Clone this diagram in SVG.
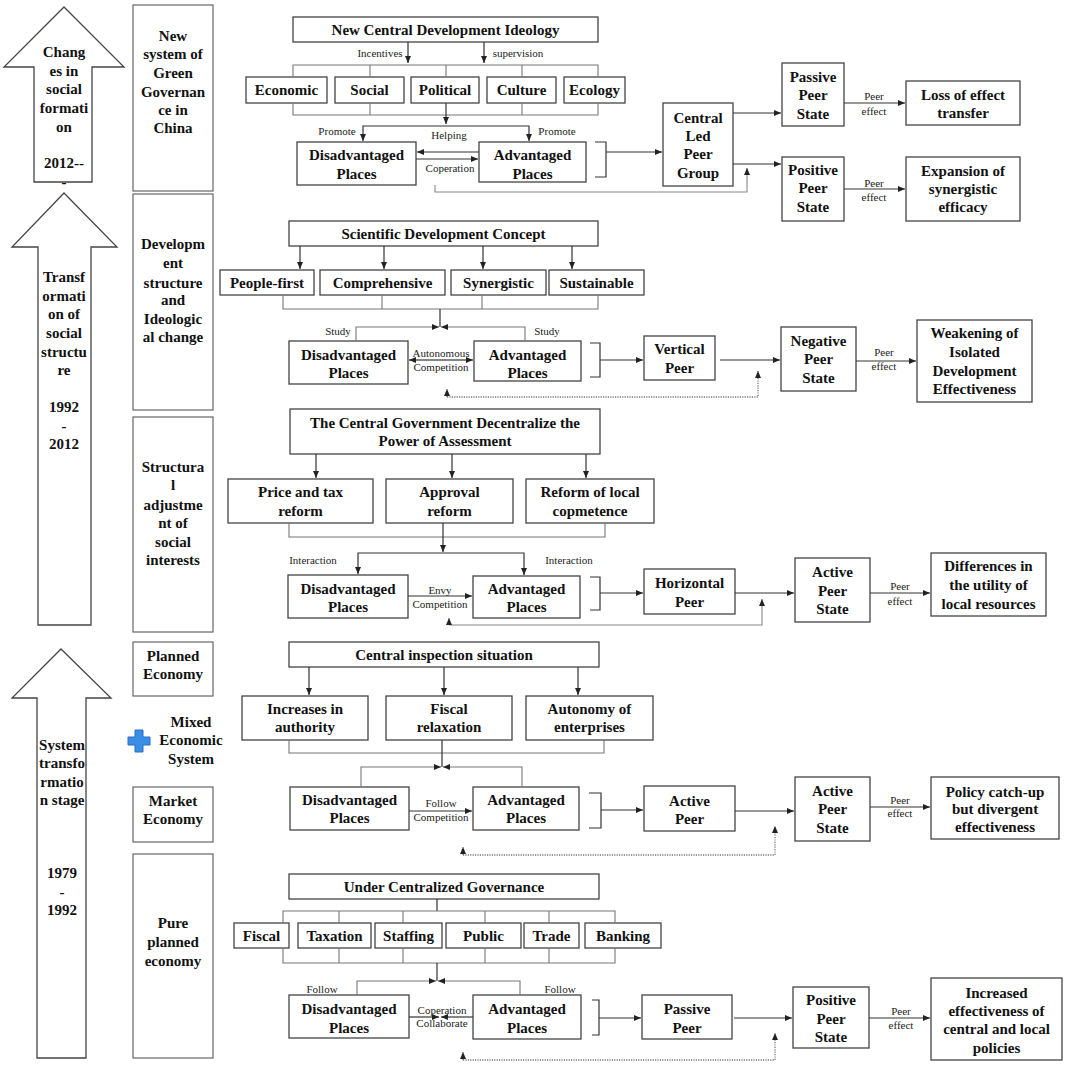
<svg xmlns="http://www.w3.org/2000/svg" width="1065" height="1065" viewBox="0 0 1065 1065">
<style>
.box{fill:#fff;stroke:#444;stroke-width:1.3}
.col{fill:#fff;stroke:#666;stroke-width:1.2}
.big{fill:#fff;stroke:#444;stroke-width:1.3}
.t{font-family:'Liberation Serif','Tinos','Times New Roman','DejaVu Serif',serif;font-weight:bold;font-size:15px;fill:#111;text-anchor:middle}
.s{font-family:'Liberation Serif','Tinos','Times New Roman','DejaVu Serif',serif;font-size:11px;fill:#222;text-anchor:middle}
.ln{fill:none;stroke:#333;stroke-width:1.2}
.br{fill:none;stroke:#777;stroke-width:1.1}
.lp{fill:none;stroke:#888;stroke-width:1.1}
.dt{fill:none;stroke:#777;stroke-width:1.3;stroke-dasharray:1.2 1.2}
</style>
<defs>
<marker id="a" markerUnits="userSpaceOnUse" markerWidth="7" markerHeight="6" refX="7" refY="3" orient="auto"><path d="M0,0 L7,3 L0,6 z" fill="#222"/></marker>
</defs>
<rect width="1065" height="1065" fill="#fff"/>

<!-- left column -->
<g id="arrow1"><polygon class="big" points="64,7 124,67 92,67 92,182 34,182 34,67 4,67"/>
<text class="t"><tspan x="64" y="57">Chang</tspan><tspan x="64" y="76">es in</tspan><tspan x="64" y="94">social</tspan><tspan x="64" y="113">formati</tspan><tspan x="64" y="132">on</tspan><tspan x="64" y="168">2012--</tspan><tspan x="64" y="187">-</tspan></text></g>
<g id="col1"><rect class="col" x="133" y="5" width="80" height="186"/>
<text class="t"><tspan x="173" y="41">New</tspan><tspan x="173" y="59">system of</tspan><tspan x="173" y="78">Green</tspan><tspan x="173" y="97">Governan</tspan><tspan x="173" y="115">ce in</tspan><tspan x="173" y="133">China</tspan></text></g>
<g id="arrow2"><polygon class="big" points="64,193 117,247 91,247 91,625 38,625 38,247 12,247"/>
<text class="t"><tspan x="64" y="282">Transf</tspan><tspan x="64" y="301">ormati</tspan><tspan x="64" y="319">on of</tspan><tspan x="64" y="338">social</tspan><tspan x="64" y="357">structu</tspan><tspan x="64" y="375">re</tspan><tspan x="64" y="412">1992</tspan><tspan x="64" y="431">-</tspan><tspan x="64" y="449">2012</tspan></text></g>
<g id="col2"><rect class="col" x="133" y="194" width="80" height="216"/>
<text class="t"><tspan x="173" y="249">Developm</tspan><tspan x="173" y="268">ent</tspan><tspan x="173" y="288">structure</tspan><tspan x="173" y="305">and</tspan><tspan x="173" y="324">Ideologic</tspan><tspan x="173" y="342">al change</tspan></text></g>
<g id="col3"><rect class="col" x="133" y="417" width="80" height="215"/>
<text class="t"><tspan x="173" y="472">Structura</tspan><tspan x="173" y="490">l</tspan><tspan x="173" y="510">adjustme</tspan><tspan x="173" y="528">nt of</tspan><tspan x="173" y="547">social</tspan><tspan x="173" y="565">interests</tspan></text></g>
<g id="col4"><rect class="col" x="133" y="642" width="80" height="54"/>
<text class="t"><tspan x="173" y="661">Planned</tspan><tspan x="173" y="679">Economy</tspan></text></g>
<g id="arrow3"><polygon class="big" points="61,649 111,698 86,698 86,1058 37,1058 37,698 12,698"/>
<text class="t"><tspan x="62" y="750">System</tspan><tspan x="62" y="768">transfo</tspan><tspan x="62" y="787">rmatio</tspan><tspan x="62" y="805">n stage</tspan><tspan x="62" y="878">1979</tspan><tspan x="62" y="897">-</tspan><tspan x="62" y="915">1992</tspan></text></g>
<g id="mixed"><path d="M135,730 h8 v7 h7 v8 h-7 v7 h-8 v-7 h-7 v-8 h7 z" fill="#3b8ee6" stroke="#2a6ec4" stroke-width="1"/>
<text class="t"><tspan x="191" y="727">Mixed</tspan><tspan x="191" y="745">Economic</tspan><tspan x="191" y="764">System</tspan></text></g>
<g id="col5"><rect class="col" x="133" y="787" width="80" height="55"/>
<text class="t"><tspan x="173" y="806">Market</tspan><tspan x="173" y="824">Economy</tspan></text></g>
<g id="col6"><rect class="col" x="133" y="854" width="80" height="204"/>
<text class="t"><tspan x="173" y="928">Pure</tspan><tspan x="173" y="947">planned</tspan><tspan x="173" y="966">economy</tspan></text></g>

<!-- section 1 nodes -->
<g id="s1top"><rect class="box" x="293" y="17" width="305" height="25"/><text class="t" x="445.5" y="35">New Central Development Ideology</text></g>
<g id="s1eco"><rect class="box" x="246" y="77" width="81" height="26"/><text class="t" x="286.5" y="95">Economic</text></g>
<g id="s1soc"><rect class="box" x="335" y="77" width="69" height="26"/><text class="t" x="369.5" y="95">Social</text></g>
<g id="s1pol"><rect class="box" x="411" y="77" width="68" height="26"/><text class="t" x="445" y="95">Political</text></g>
<g id="s1cul"><rect class="box" x="487" y="77" width="69" height="26"/><text class="t" x="521.5" y="95">Culture</text></g>
<g id="s1ecl"><rect class="box" x="564" y="77" width="61" height="26"/><text class="t" x="594.5" y="95">Ecology</text></g>
<g id="s1dis"><rect class="box" x="297" y="142" width="119" height="43"/><text class="t"><tspan x="356.5" y="160">Disadvantaged</tspan><tspan x="356.5" y="179">Places</tspan></text></g>
<g id="s1adv"><rect class="box" x="479" y="142" width="107" height="40"/><text class="t"><tspan x="532.5" y="160">Advantaged</tspan><tspan x="532.5" y="179">Places</tspan></text></g>
<g id="s1cen"><rect class="box" x="663" y="103" width="70" height="83"/><text class="t"><tspan x="698" y="123">Central</tspan><tspan x="698" y="141">Led</tspan><tspan x="698" y="159">Peer</tspan><tspan x="698" y="178">Group</tspan></text></g>
<g id="s1pas"><rect class="box" x="782" y="63" width="62" height="63"/><text class="t"><tspan x="813" y="82">Passive</tspan><tspan x="813" y="100">Peer</tspan><tspan x="813" y="119">State</tspan></text></g>
<g id="s1loss"><rect class="box" x="906" y="81" width="114" height="44"/><text class="t"><tspan x="963" y="100">Loss of effect</tspan><tspan x="963" y="118">transfer</tspan></text></g>
<g id="s1pos"><rect class="box" x="782" y="157" width="62" height="64"/><text class="t"><tspan x="813" y="175">Positive</tspan><tspan x="813" y="193">Peer</tspan><tspan x="813" y="212">State</tspan></text></g>
<g id="s1exp"><rect class="box" x="906" y="157" width="114" height="64"/><text class="t"><tspan x="963" y="176">Expansion of</tspan><tspan x="963" y="194">synergistic</tspan><tspan x="963" y="212">efficacy</tspan></text></g>

<!-- section 2 nodes -->
<g id="s2top"><rect class="box" x="289" y="221" width="309" height="25"/><text class="t" x="443.5" y="239">Scientific Development Concept</text></g>
<g id="s2peo"><rect class="box" x="220" y="270" width="94" height="25"/><text class="t" x="267" y="288">People-first</text></g>
<g id="s2com"><rect class="box" x="320" y="270" width="125" height="25"/><text class="t" x="382.5" y="288">Comprehensive</text></g>
<g id="s2syn"><rect class="box" x="451" y="270" width="95" height="25"/><text class="t" x="498.5" y="288">Synergistic</text></g>
<g id="s2sus"><rect class="box" x="549" y="270" width="95" height="25"/><text class="t" x="596.5" y="288">Sustainable</text></g>
<g id="s2dis"><rect class="box" x="289" y="341" width="119" height="43"/><text class="t"><tspan x="348.5" y="360">Disadvantaged</tspan><tspan x="348.5" y="378">Places</tspan></text></g>
<g id="s2adv"><rect class="box" x="474" y="341" width="107" height="40"/><text class="t"><tspan x="527.5" y="360">Advantaged</tspan><tspan x="527.5" y="378">Places</tspan></text></g>
<g id="s2ver"><rect class="box" x="644" y="336" width="71" height="44"/><text class="t"><tspan x="679.5" y="354">Vertical</tspan><tspan x="679.5" y="373">Peer</tspan></text></g>
<g id="s2neg"><rect class="box" x="781" y="327" width="75" height="64"/><text class="t"><tspan x="818.5" y="346">Negative</tspan><tspan x="818.5" y="364">Peer</tspan><tspan x="818.5" y="383">State</tspan></text></g>
<g id="s2wea"><rect class="box" x="917" y="320" width="115" height="82"/><text class="t"><tspan x="974.5" y="338">Weakening of</tspan><tspan x="974.5" y="357">Isolated</tspan><tspan x="974.5" y="376">Development</tspan><tspan x="974.5" y="394">Effectiveness</tspan></text></g>

<!-- section 3 nodes -->
<g id="s3top"><rect class="box" x="290" y="409" width="310" height="45"/><text class="t"><tspan x="445" y="428">The Central Government Decentralize the</tspan><tspan x="445" y="446">Power of Assessment</tspan></text></g>
<g id="s3pri"><rect class="box" x="228" y="479" width="145" height="44"/><text class="t"><tspan x="300.5" y="497">Price and tax</tspan><tspan x="300.5" y="516">reform</tspan></text></g>
<g id="s3app"><rect class="box" x="386" y="479" width="127" height="44"/><text class="t"><tspan x="449.5" y="497">Approval</tspan><tspan x="449.5" y="516">reform</tspan></text></g>
<g id="s3ref"><rect class="box" x="526" y="479" width="128" height="44"/><text class="t"><tspan x="590" y="497">Reform of local</tspan><tspan x="590" y="516">copmetence</tspan></text></g>
<g id="s3dis"><rect class="box" x="288" y="575" width="120" height="43"/><text class="t"><tspan x="348" y="594">Disadvantaged</tspan><tspan x="348" y="612">Places</tspan></text></g>
<g id="s3adv"><rect class="box" x="473" y="576" width="107" height="42"/><text class="t"><tspan x="526.5" y="594">Advantaged</tspan><tspan x="526.5" y="612">Places</tspan></text></g>
<g id="s3hor"><rect class="box" x="644" y="569" width="91" height="45"/><text class="t"><tspan x="689.5" y="588">Horizontal</tspan><tspan x="689.5" y="607">Peer</tspan></text></g>
<g id="s3act"><rect class="box" x="795" y="558" width="75" height="64"/><text class="t"><tspan x="832.5" y="577">Active</tspan><tspan x="832.5" y="596">Peer</tspan><tspan x="832.5" y="614">State</tspan></text></g>
<g id="s3dif"><rect class="box" x="931" y="553" width="115" height="63"/><text class="t"><tspan x="988.5" y="571">Differences in</tspan><tspan x="988.5" y="590">the utility of</tspan><tspan x="988.5" y="609">local resources</tspan></text></g>

<!-- section 4 nodes -->
<g id="s4top"><rect class="box" x="289" y="642" width="310" height="25"/><text class="t" x="444" y="660">Central inspection situation</text></g>
<g id="s4inc"><rect class="box" x="242" y="696" width="126" height="44"/><text class="t"><tspan x="305" y="714">Increases in</tspan><tspan x="305" y="732">authority</tspan></text></g>
<g id="s4fis"><rect class="box" x="386" y="696" width="126" height="44"/><text class="t"><tspan x="449" y="714">Fiscal</tspan><tspan x="449" y="732">relaxation</tspan></text></g>
<g id="s4aut"><rect class="box" x="526" y="696" width="127" height="44"/><text class="t"><tspan x="589.5" y="714">Autonomy of</tspan><tspan x="589.5" y="732">enterprises</tspan></text></g>
<g id="s4dis"><rect class="box" x="290" y="787" width="119" height="43"/><text class="t"><tspan x="349.5" y="805">Disadvantaged</tspan><tspan x="349.5" y="823">Places</tspan></text></g>
<g id="s4adv"><rect class="box" x="473" y="787" width="106" height="43"/><text class="t"><tspan x="526" y="805">Advantaged</tspan><tspan x="526" y="823">Places</tspan></text></g>
<g id="s4ap"><rect class="box" x="644" y="786" width="91" height="45"/><text class="t"><tspan x="689.5" y="806">Active</tspan><tspan x="689.5" y="824">Peer</tspan></text></g>
<g id="s4aps"><rect class="box" x="795" y="777" width="75" height="64"/><text class="t"><tspan x="832.5" y="796">Active</tspan><tspan x="832.5" y="814">Peer</tspan><tspan x="832.5" y="833">State</tspan></text></g>
<g id="s4pol"><rect class="box" x="931" y="777" width="128" height="62"/><text class="t"><tspan x="995" y="797">Policy catch-up</tspan><tspan x="995" y="814">but divergent</tspan><tspan x="995" y="832">effectiveness</tspan></text></g>

<!-- section 5 nodes -->
<g id="s5top"><rect class="box" x="289" y="874" width="310" height="25"/><text class="t" x="444" y="892">Under Centralized Governance</text></g>
<g id="s5fis"><rect class="box" x="234" y="923" width="55" height="25"/><text class="t" x="261.5" y="941">Fiscal</text></g>
<g id="s5tax"><rect class="box" x="298" y="923" width="73" height="25"/><text class="t" x="334.5" y="941">Taxation</text></g>
<g id="s5sta"><rect class="box" x="375" y="923" width="67" height="25"/><text class="t" x="408.5" y="941">Staffing</text></g>
<g id="s5pub"><rect class="box" x="446" y="923" width="75" height="25"/><text class="t" x="483.5" y="941">Public</text></g>
<g id="s5tra"><rect class="box" x="524" y="923" width="55" height="25"/><text class="t" x="551.5" y="941">Trade</text></g>
<g id="s5ban"><rect class="box" x="585" y="923" width="76" height="25"/><text class="t" x="623" y="941">Banking</text></g>
<g id="s5dis"><rect class="box" x="289" y="995" width="120" height="43"/><text class="t"><tspan x="349" y="1014">Disadvantaged</tspan><tspan x="349" y="1033">Places</tspan></text></g>
<g id="s5adv"><rect class="box" x="473" y="995" width="108" height="44"/><text class="t"><tspan x="527" y="1014">Advantaged</tspan><tspan x="527" y="1033">Places</tspan></text></g>
<g id="s5pp"><rect class="box" x="642" y="995" width="90" height="44"/><text class="t"><tspan x="687" y="1014">Passive</tspan><tspan x="687" y="1033">Peer</tspan></text></g>
<g id="s5pps"><rect class="box" x="793" y="987" width="76" height="61"/><text class="t"><tspan x="831" y="1005">Positive</tspan><tspan x="831" y="1024">Peer</tspan><tspan x="831" y="1042">State</tspan></text></g>
<g id="s5inc"><rect class="box" x="931" y="978" width="131" height="82"/><text class="t"><tspan x="996.5" y="998">Increased</tspan><tspan x="996.5" y="1016">effectiveness of</tspan><tspan x="996.5" y="1034">central and local</tspan><tspan x="996.5" y="1053">policies</tspan></text></g>

<!-- connectors -->
<g id="connectors">
<path class="ln" d="M408,42 V63" marker-end="url(#a)"/>
<path class="ln" d="M484,42 V63" marker-end="url(#a)"/>
<path class="br" d="M293,77 V65 H598 V77 M370,65 V77 M446,65 V77 M522,65 V77"/>
<path class="br" d="M293,103 V115 H598 V103 M370,103 V115 M522,103 V115"/>
<path class="ln" d="M446,103 V124" marker-end="url(#a)"/>
<path class="ln" d="M446,126 H363 V141" marker-end="url(#a)"/>
<path class="ln" d="M446,126 H529 V141" marker-end="url(#a)"/>
<path class="ln" d="M479,152 H417" marker-end="url(#a)"/>
<path class="ln" d="M416,159 H478" marker-end="url(#a)"/>
<path class="ln" d="M595,142 H606 V177 H595"/>
<path class="ln" d="M606,152 H662" marker-end="url(#a)"/>
<path class="lp" d="M435,185 V192 H747 V168" marker-end="url(#a)"/>
<path class="ln" d="M733,113 H781" marker-end="url(#a)"/>
<path class="ln" d="M733,164 H781" marker-end="url(#a)"/>
<path class="ln" d="M844,103 H905" marker-end="url(#a)"/>
<path class="ln" d="M844,189 H905" marker-end="url(#a)"/>
<path class="ln" d="M300,246 V269" marker-end="url(#a)"/>
<path class="ln" d="M384,246 V269" marker-end="url(#a)"/>
<path class="ln" d="M483,246 V269" marker-end="url(#a)"/>
<path class="ln" d="M572,246 V269" marker-end="url(#a)"/>
<path class="br" d="M283,295 V309 H598 V295 M382,295 V309 M482,295 V309"/>
<path class="ln" d="M440,309 V327"/>
<path class="br" d="M356,341 V327 H439" marker-end="url(#a)"/>
<path class="br" d="M525,341 V327 H441" marker-end="url(#a)"/>
<path class="ln" d="M441,360 H473" marker-end="url(#a)"/>
<path class="ln" d="M441,360 H409" marker-end="url(#a)"/>
<path class="ln" d="M590,343 H600 V377 H590"/>
<path class="ln" d="M600,360 H643" marker-end="url(#a)"/>
<path class="ln" d="M720,360 H780" marker-end="url(#a)"/>
<path class="dt" d="M447,397 H758 V371" marker-end="url(#a)"/>
<path class="dt" d="M447,397 V389" marker-end="url(#a)"/>
<path class="ln" d="M856,361 H916" marker-end="url(#a)"/>
<path class="ln" d="M316,454 V478" marker-end="url(#a)"/>
<path class="ln" d="M452,454 V478" marker-end="url(#a)"/>
<path class="ln" d="M586,454 V478" marker-end="url(#a)"/>
<path class="br" d="M289,523 V537 H605 V523"/>
<path class="ln" d="M443,523 V552" marker-end="url(#a)"/>
<path class="ln" d="M443,553 H358 V574" marker-end="url(#a)"/>
<path class="ln" d="M443,553 H524 V575" marker-end="url(#a)"/>
<path class="ln" d="M408,596 H472" marker-end="url(#a)"/>
<path class="ln" d="M590,577 H600 V610 H590"/>
<path class="ln" d="M600,593 H643" marker-end="url(#a)"/>
<path class="lp" d="M449,625 H762 V599" marker-end="url(#a)"/>
<path class="lp" d="M449,625 V618" marker-end="url(#a)"/>
<path class="ln" d="M735,593 H794" marker-end="url(#a)"/>
<path class="ln" d="M870,593 H930" marker-end="url(#a)"/>
<path class="ln" d="M309,667 V695" marker-end="url(#a)"/>
<path class="ln" d="M444,667 V695" marker-end="url(#a)"/>
<path class="ln" d="M578,667 V695" marker-end="url(#a)"/>
<path class="br" d="M289,740 V753 H604 V740"/>
<path class="ln" d="M442,740 V767"/>
<path class="br" d="M361,787 V767 H441" marker-end="url(#a)"/>
<path class="br" d="M522,787 V767 H443" marker-end="url(#a)"/>
<path class="ln" d="M409,811 H472" marker-end="url(#a)"/>
<path class="ln" d="M589,793 H601 V828 H589"/>
<path class="ln" d="M601,810 H643" marker-end="url(#a)"/>
<path class="dt" d="M463,855 H775 V826" marker-end="url(#a)"/>
<path class="dt" d="M463,855 V847" marker-end="url(#a)"/>
<path class="ln" d="M735,811 H794" marker-end="url(#a)"/>
<path class="ln" d="M870,807 H930" marker-end="url(#a)"/>
<path class="ln" d="M437,899 V911"/>
<path class="br" d="M283,923 V911 H615 V923 M339,911 V923 M403,911 V923 M485,911 V923 M549,911 V923"/>
<path class="br" d="M283,948 V963 H615 V948 M339,948 V963 M403,948 V963 M485,948 V963 M549,948 V963"/>
<path class="ln" d="M437,963 V981"/>
<path class="br" d="M357,995 V981 H436" marker-end="url(#a)"/>
<path class="br" d="M520,995 V981 H438" marker-end="url(#a)"/>
<path class="ln" d="M409,1017 H439" marker-end="url(#a)"/>
<path class="ln" d="M473,1017 H441" marker-end="url(#a)"/>
<path class="ln" d="M592,1000 H599 V1035 H592"/>
<path class="ln" d="M599,1018 H641" marker-end="url(#a)"/>
<path class="ln" d="M734,1018 H792" marker-end="url(#a)"/>
<path class="ln" d="M869,1018 H930" marker-end="url(#a)"/>
<path class="dt" d="M463,1060 H775 V1033" marker-end="url(#a)"/>
<path class="dt" d="M463,1060 V1052" marker-end="url(#a)"/>
</g>

<g id="labels">
<text class="s" x="380" y="57">Incentives</text>
<text class="s" x="518" y="57">supervision</text>
<text class="s" x="337" y="135">Promote</text>
<text class="s" x="449" y="139">Helping</text>
<text class="s" x="557" y="135">Promote</text>
<text class="s" x="450" y="172">Coperation</text>
<text class="s"><tspan x="874" y="100">Peer</tspan><tspan x="874" y="115">effect</tspan></text>
<text class="s"><tspan x="874" y="187">Peer</tspan><tspan x="874" y="201">effect</tspan></text>
<text class="s" x="338" y="335">Study</text>
<text class="s" x="547" y="335">Study</text>
<text class="s"><tspan x="441" y="357">Autonomous</tspan><tspan x="441" y="371">Competition</tspan></text>
<text class="s"><tspan x="884" y="356">Peer</tspan><tspan x="884" y="370">effect</tspan></text>
<text class="s" x="313" y="564">Interaction</text>
<text class="s" x="569" y="564">Interaction</text>
<text class="s"><tspan x="440" y="594">Envy</tspan><tspan x="440" y="608">Competition</tspan></text>
<text class="s"><tspan x="900" y="590">Peer</tspan><tspan x="900" y="605">effect</tspan></text>
<text class="s"><tspan x="441" y="807">Follow</tspan><tspan x="441" y="821">Competition</tspan></text>
<text class="s"><tspan x="900" y="804">Peer</tspan><tspan x="900" y="817">effect</tspan></text>
<text class="s" x="322" y="993">Follow</text>
<text class="s" x="560" y="993">Follow</text>
<text class="s"><tspan x="442" y="1014">Coperation</tspan><tspan x="442" y="1027">Collaborate</tspan></text>
<text class="s"><tspan x="901" y="1015">Peer</tspan><tspan x="901" y="1029">effect</tspan></text>
</g>
</svg>
